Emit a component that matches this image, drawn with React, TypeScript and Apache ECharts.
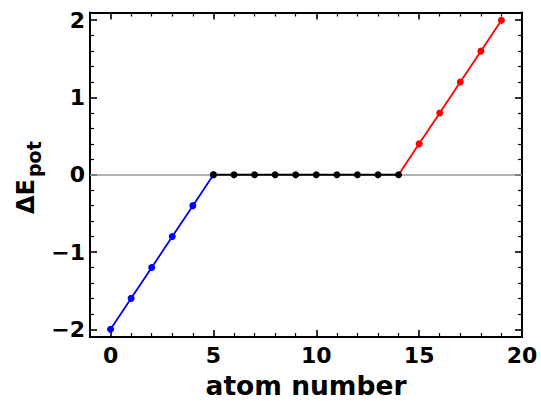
import React, { useEffect, useRef } from "react";
import * as echarts from "echarts";

// Potential energy difference per atom along the chain
const blueX = [0, 1, 2, 3, 4, 5];
const blueY = [-2.0, -1.6, -1.2, -0.8, -0.4, 0.0];
const blackX = [5, 6, 7, 8, 9, 10, 11, 12, 13, 14];
const blackY = [0, 0, 0, 0, 0, 0, 0, 0, 0, 0];
const redX = [14, 15, 16, 17, 18, 19];
const redY = [0.0, 0.4, 0.8, 1.2, 1.6, 2.0];

const xMajorTicks = [0, 5, 10, 15, 20];
const xMinorTicks = [1, 2, 3, 4, 6, 7, 8, 9, 11, 12, 13, 14, 16, 17, 18, 19];
const yMajorTicks = [-2, -1, 0, 1, 2];
const yMinorTicks = [-1.8, -1.6, -1.4, -1.2, -0.8, -0.6, -0.4, -0.2, 0.2, 0.4, 0.6, 0.8, 1.2, 1.4, 1.6, 1.8];

const FONT = "DejaVu Sans";

function pairs(xs: number[], ys: number[]) {
  return xs.map((x, i) => [x, ys[i]]);
}

function fmt(v: number) {
  return v < 0 ? "\u2212" + Math.abs(v) : String(v);
}

export default function App() {
  const ref = useRef<HTMLDivElement>(null);

  useEffect(() => {
    if (!ref.current) return;
    const chart = echarts.init(ref.current, null, { renderer: "svg" });

    const xRange = { type: "value" as const, min: -1, max: 20, splitLine: { show: false } };
    const yRange = { type: "value" as const, min: -2.1, max: 2.1, splitLine: { show: false } };
    const frame = { show: true, onZero: false, lineStyle: { color: "#000", width: 2 } };
    const noLine = { show: false, onZero: false };
    const majorTick = (vals: number[]) => ({
      show: true, inside: true, length: 7, customValues: vals,
      lineStyle: { color: "#000", width: 1.6 },
    });
    const minorTick = (vals: number[]) => ({
      show: true, inside: true, length: 4, customValues: vals,
      lineStyle: { color: "#000", width: 1.2 },
    });
    const tickLabel = (vals: number[], margin: number) => ({
      show: true, customValues: vals, formatter: fmt, margin,
      fontFamily: FONT, fontSize: 22, fontWeight: "bold" as const, color: "#000",
    });
    const hidden = { show: false };

    const lineSeries = (name: string, data: any[], color: string, z: number) => ({
      name, type: "line", data, xAxisIndex: 0, yAxisIndex: 0, z,
      symbol: "circle", symbolSize: 7,
      lineStyle: { color, width: 1.8 },
      itemStyle: { color },
      emphasis: { disabled: true },
    });

    const redData: any[] = pairs(redX, redY).map((p, i) =>
      i === 0 ? { value: p, symbol: "none" } : p
    );

    chart.setOption({
      animation: false,
      grid: { left: 90, right: 19, top: 12.5, bottom: 64, outerBoundsMode: "none" },
      xAxis: [
        {
          ...xRange, position: "bottom", axisLine: frame,
          axisTick: majorTick(xMajorTicks), axisLabel: tickLabel(xMajorTicks, 7),
          name: "atom number", nameLocation: "middle", nameGap: 35,
          nameTextStyle: { fontFamily: FONT, fontSize: 26.5, fontWeight: "bold", color: "#000" },
        },
        { ...xRange, position: "bottom", axisLine: noLine, axisTick: minorTick(xMinorTicks), axisLabel: hidden },
        { ...xRange, position: "top", axisLine: frame, axisTick: majorTick(xMajorTicks), axisLabel: hidden },
        { ...xRange, position: "top", axisLine: noLine, axisTick: minorTick(xMinorTicks), axisLabel: hidden },
      ],
      yAxis: [
        {
          ...yRange, position: "left", axisLine: frame,
          axisTick: majorTick(yMajorTicks), axisLabel: tickLabel(yMajorTicks, 5),
        },
        { ...yRange, position: "left", axisLine: noLine, axisTick: minorTick(yMinorTicks), axisLabel: hidden },
        { ...yRange, position: "right", axisLine: frame, axisTick: majorTick(yMajorTicks), axisLabel: hidden },
        { ...yRange, position: "right", axisLine: noLine, axisTick: minorTick(yMinorTicks), axisLabel: hidden },
      ],
      series: [
        {
          ...lineSeries("blue", pairs(blueX, blueY), "#0000ff", 3),
          markLine: {
            silent: true, symbol: "none", label: { show: false },
            lineStyle: { color: "#999", width: 1.5, type: "solid" },
            data: [{ yAxis: 0 }],
          },
        },
        lineSeries("red", redData, "#ff0000", 4),
        lineSeries("black", pairs(blackX, blackY), "#000000", 5),
      ],
      graphic: [
        {
          type: "group", x: 38, y: 214, rotation: Math.PI / 2,
          children: [
            {
              type: "text", x: 0, y: 0,
              style: {
                text: "\u0394E", fontFamily: FONT, fontSize: 24, fontWeight: "bold",
                fill: "#000", align: "left", verticalAlign: "bottom",
              },
            },
            {
              type: "text", x: 37, y: 5,
              style: {
                text: "pot", fontFamily: FONT, fontSize: 19, fontWeight: "bold",
                fill: "#000", align: "left", verticalAlign: "bottom",
              },
            },
          ],
        },
      ],
    });

    return () => chart.dispose();
  }, []);

  return (
    <div
      ref={ref}
      style={{ position: "fixed", left: 0, top: 0, width: 541, height: 401, background: "#fff" }}
    />
  );
}
